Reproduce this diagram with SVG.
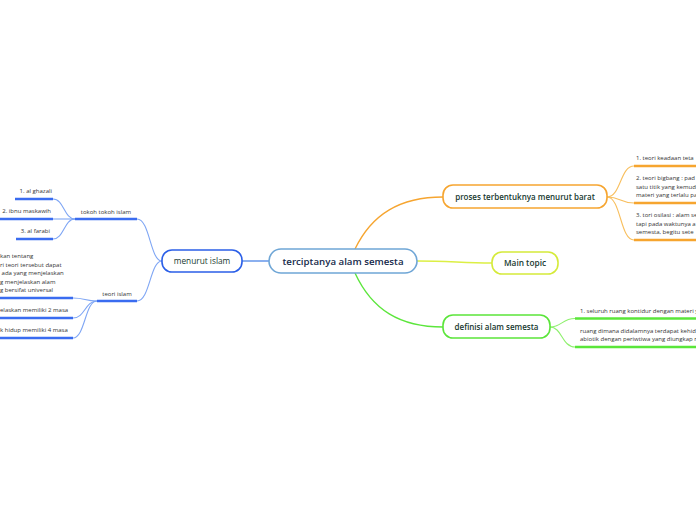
<svg xmlns="http://www.w3.org/2000/svg" width="696" height="520" viewBox="0 0 696 520">
<style>
.node{fill:#ffffff;stroke-width:1.6}
.ttl{font-family:"Open Sans","Noto Sans",sans-serif;text-anchor:middle;fill:#17392f}
.leaf{font-family:"Open Sans","Noto Sans",sans-serif;font-size:6px;fill:#333333}
.c{fill:none;stroke-width:1.1}
.u{fill:none;stroke-width:2.6;stroke-linecap:butt}
.blue{stroke:#7fa6f4}
.ublue{stroke:#3a6cf0}
.orange{stroke:#f8bf5e}
.uorange{stroke:#f6a52f}
.green{stroke:#8ef06d}
.ugreen{stroke:#5ae63a}
</style>
<rect width="696" height="520" fill="#ffffff"/>
<g id="connectors">
  <path d="M355,249 C372,214 400,197 443,197" stroke="#f6a530" stroke-width="1.4" fill="none"/>
  <path d="M417,261 C450,261 462,263 492,263" stroke="#dcef44" stroke-width="1.4" fill="none"/>
  <path d="M355,273 C372,310 400,327 443,327" stroke="#5ce63c" stroke-width="1.4" fill="none"/>
  <path d="M242,261 L269,261" stroke="#5a8ee8" stroke-width="1.4" fill="none"/>
  <path class="c blue" d="M162,261 C150,261 150,219 137,219"/>
  <path class="c blue" d="M162,261 C150,261 150,301 137,301"/>
  <path class="u ublue" d="M75,219 L137,219"/>
  <path class="u ublue" d="M97,301 L137,301"/>
  <path class="c blue" d="M75,219 C64,219 64,199 53,199"/>
  <path class="c blue" d="M75,219 L53,219"/>
  <path class="c blue" d="M75,219 C64,219 64,239 53,239"/>
  <path class="u ublue" d="M15,199 L53,199"/>
  <path class="u ublue" d="M0,219 L53,219"/>
  <path class="u ublue" d="M16,239 L53,239"/>
  <path class="c blue" d="M97,301 C85,301 85,298 73,298"/>
  <path class="c blue" d="M97,301 C85,301 85,318 73,318"/>
  <path class="c blue" d="M97,301 C85,301 85,338 73,338"/>
  <path class="u ublue" d="M0,298 L73,298"/>
  <path class="u ublue" d="M0,318 L73,318"/>
  <path class="u ublue" d="M0,338 L73,338"/>
  <path class="c orange" d="M607,197 C621,197 620,166 634,166"/>
  <path class="c orange" d="M607,197 C621,197 620,203 634,203"/>
  <path class="c orange" d="M607,197 C621,197 620,240 634,240"/>
  <path class="u uorange" d="M634,166 L700,166"/>
  <path class="u uorange" d="M634,203 L700,203"/>
  <path class="u uorange" d="M634,240 L700,240"/>
  <path class="c green" d="M550,327 C562,327 562,318.5 575,318.5"/>
  <path class="c green" d="M550,327 C562,327 562,347 575,347"/>
  <path class="u ugreen" d="M575,318.5 L700,318.5"/>
  <path class="u ugreen" d="M575,347 L700,347"/>
</g>
<g id="central">
  <rect class="node" x="269" y="249" width="148" height="24" rx="12" stroke="#6fa6d6"/>
  <text class="ttl" x="343" y="264.5" font-size="9.7" font-weight="600" style="fill:#14294a">terciptanya alam semesta</text>
</g>
<g id="menurut-islam">
  <rect class="node" x="162" y="250" width="80" height="22" rx="10" stroke="#2b5fe8"/>
  <text class="ttl" x="202" y="264" font-size="8.3" font-weight="500">menurut islam</text>
</g>
<g id="proses">
  <rect class="node" x="443" y="185" width="164" height="23" rx="10" stroke="#f6a530"/>
  <text class="ttl" x="525" y="199.5" font-size="8" font-weight="600">proses terbentuknya menurut barat</text>
</g>
<g id="main-topic">
  <rect class="node" x="492" y="252" width="66" height="22" rx="10" stroke="#d5ea3a"/>
  <text class="ttl" x="525" y="266" font-size="8.3" font-weight="600">Main topic</text>
</g>
<g id="definisi">
  <rect class="node" x="443" y="315" width="107" height="23" rx="10" stroke="#5be53a"/>
  <text class="ttl" x="496.5" y="329.5" font-size="8" font-weight="600">definisi alam semesta</text>
</g>
<g id="tokoh-tokoh-islam">
  <text class="leaf" x="106" y="213.5" text-anchor="middle">tokoh tokoh islam</text>
</g>
<g id="al-ghazali"><text class="leaf" x="52" y="193" text-anchor="end">1. al ghazali</text></g>
<g id="ibnu-maskawih"><text class="leaf" x="51" y="213" text-anchor="end">2. ibnu maskawih</text></g>
<g id="al-farabi"><text class="leaf" x="50" y="233" text-anchor="end">3. al farabi</text></g>
<g id="teori-islam">
  <text class="leaf" x="117" y="295.5" text-anchor="middle">teori islam</text>
</g>
<g id="teori-leaf-1">
  <text class="leaf"><tspan x="0" y="258">kan tentang</tspan><tspan x="0" y="266.5">ri teori tersebut dapat</tspan><tspan x="0" y="275"> ada yang menjelaskan</tspan><tspan x="0" y="283.5">g menjelaskan alam</tspan><tspan x="0" y="292">g bersifat universal</tspan></text>
</g>
<g id="teori-leaf-2"><text class="leaf" x="0" y="312">elaskan memiliki 2 masa</text></g>
<g id="teori-leaf-3"><text class="leaf" x="0" y="332">k hidup memiliki 4 masa</text></g>
<g id="barat-1"><text class="leaf" x="636" y="160">1. teori keadaan teta</text></g>
<g id="barat-2">
  <text class="leaf"><tspan x="636" y="180">2. teori bigbang : pad</tspan><tspan x="636" y="188.5">satu titik yang kemudi</tspan><tspan x="636" y="197">materi yang terlalu pa</tspan></text>
</g>
<g id="barat-3">
  <text class="leaf"><tspan x="636" y="217">3. tori osilasi : alam se</tspan><tspan x="636" y="225.5">tapi pada waktunya a</tspan><tspan x="636" y="234">semesta, begitu sete</tspan></text>
</g>
<g id="definisi-1"><text class="leaf" x="580" y="312.5">1. seluruh ruang kontidur dengan materi y</text></g>
<g id="definisi-2">
  <text class="leaf"><tspan x="580" y="332.5">ruang dimana didalamnya terdapat kehid</tspan><tspan x="580" y="341">abiotik dengan periwtiwa yang diungkap r</tspan></text>
</g>
</svg>
